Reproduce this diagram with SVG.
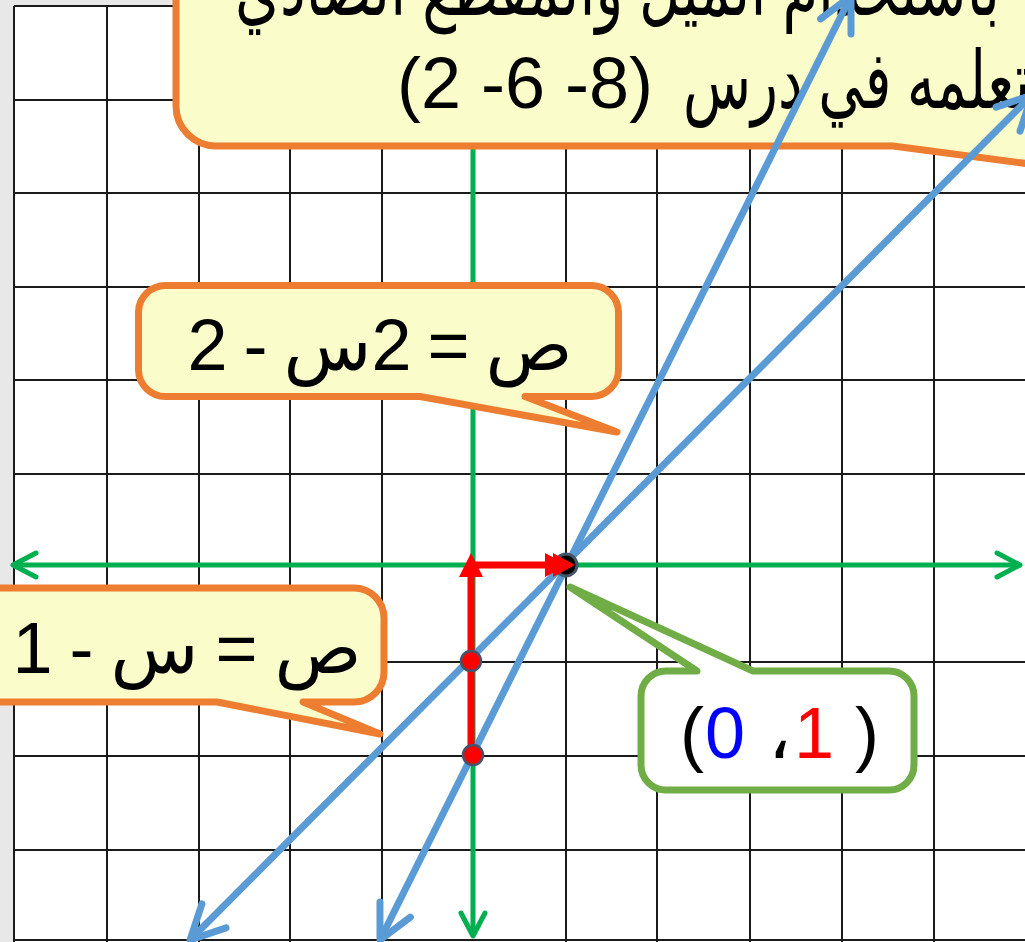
<svg xmlns="http://www.w3.org/2000/svg" width="1025" height="942" viewBox="0 0 1025 942">
<defs>
<style>
.grid line{stroke:#1b1b1b;stroke-width:2}
.axis{stroke:#00B050;stroke-width:5;fill:none}
.blue{stroke:#5B9BD5;stroke-width:7;fill:none}
.red{stroke:#FF0000;stroke-width:7;fill:none}
.callout-o{fill:#FAFDC9;stroke:#ED7D31;stroke-width:7;stroke-linejoin:round}
.callout-g{fill:#FFFFFF;stroke:#70AD47;stroke-width:7;stroke-linejoin:round}
.t{font-family:'Liberation Sans','DejaVu Sans',sans-serif;font-size:72px;fill:#000}
.ar{font-size:80px}
.rdot{fill:#FF0000;stroke:#44546A;stroke-width:2.5}
</style>
<marker id="ga" markerUnits="userSpaceOnUse" markerWidth="60" markerHeight="60" viewBox="-30 -30 60 60" refX="0" refY="0" orient="auto-start-reverse" overflow="visible">
<path d="M-23,-12 L0,0 L-23,12" fill="none" stroke="#00B050" stroke-width="5" stroke-linecap="round" stroke-linejoin="round"/>
</marker>
<marker id="ba" markerUnits="userSpaceOnUse" markerWidth="80" markerHeight="80" viewBox="-40 -40 80 80" refX="0" refY="0" orient="auto-start-reverse" overflow="visible">
<path d="M-34,-17 L0,0 L-34,17" fill="none" stroke="#5B9BD5" stroke-width="7" stroke-linecap="round" stroke-linejoin="round"/>
</marker>
<marker id="ra" markerUnits="userSpaceOnUse" markerWidth="60" markerHeight="60" viewBox="-30 -30 60 60" refX="0" refY="0" orient="auto" overflow="visible">
<path d="M17,0 L-7,-12 L-7,12 Z" fill="#FF0000"/>
</marker>
<marker id="ra2" markerUnits="userSpaceOnUse" markerWidth="60" markerHeight="60" viewBox="-30 -30 60 60" refX="0" refY="0" orient="auto" overflow="visible">
<path d="M23,0 L0,-12 L0,12 Z M30,0 L8,-12 L8,12 Z" fill="#FF0000"/>
</marker>
</defs>
<rect x="0" y="0" width="1025" height="942" fill="#E8E8E8"/>
<rect x="14" y="6" width="1011" height="936" fill="#FFFFFF"/>
<g id="grid" class="grid">
<line x1="14" y1="6" x2="14" y2="942"/>
<line x1="107" y1="6" x2="107" y2="942"/>
<line x1="199" y1="6" x2="199" y2="942"/>
<line x1="290" y1="6" x2="290" y2="942"/>
<line x1="382" y1="6" x2="382" y2="942"/>
<line x1="566" y1="6" x2="566" y2="942"/>
<line x1="657" y1="6" x2="657" y2="942"/>
<line x1="750" y1="6" x2="750" y2="942"/>
<line x1="842" y1="6" x2="842" y2="942"/>
<line x1="934" y1="6" x2="934" y2="942"/>
<line x1="14" y1="6" x2="1025" y2="6"/>
<line x1="14" y1="100" x2="1025" y2="100"/>
<line x1="14" y1="193" x2="1025" y2="193"/>
<line x1="14" y1="287" x2="1025" y2="287"/>
<line x1="14" y1="380" x2="1025" y2="380"/>
<line x1="14" y1="474" x2="1025" y2="474"/>
<line x1="14" y1="662" x2="1025" y2="662"/>
<line x1="14" y1="756" x2="1025" y2="756"/>
<line x1="14" y1="850" x2="1025" y2="850"/>
<line x1="14" y1="940" x2="1025" y2="940"/>
</g>
<g id="axes">
<line class="axis" x1="13" y1="565" x2="1020" y2="565" marker-start="url(#ga)" marker-end="url(#ga)"/>
<line class="axis" x1="473" y1="6" x2="473" y2="936" marker-end="url(#ga)"/>
</g>
<g id="callout-top">
<path class="callout-o" d="M176,-20 V106 A40,40 0 0 0 216,146 H893 L1045,166 V-20 Z"/>
<text class="t ar" x="1000" y="15" text-anchor="end" textLength="765" lengthAdjust="spacingAndGlyphs">باستخدام الميل والمقطع الصادي</text>
<text class="t ar" x="1030" y="108" text-anchor="end" textLength="347" lengthAdjust="spacingAndGlyphs">تعلمه في درس</text>
<text class="t" x="397" y="108" direction="ltr">(2 -6 -8)</text>
</g>
<g id="callout-eq2">
<path class="callout-o" d="M166,285.5 H592 A27,27 0 0 1 618.5,312 V370 A27,27 0 0 1 592,396.5 H525 L617,432 L420,396.5 H166 A27,27 0 0 1 138.5,370 V312 A27,27 0 0 1 166,285.5 Z"/>
<text class="t" x="380" y="370" text-anchor="middle" direction="rtl" style="direction:rtl;unicode-bidi:embed;word-spacing:-4px">ص = 2س - 2</text>
</g>
<g id="callout-eq1">
<path class="callout-o" d="M-10,588 H354 A30,30 0 0 1 384,618 V672 A30,30 0 0 1 354,702 H303 L380,734 L217,702 H-10 Z"/>
<text class="t" x="187" y="673" text-anchor="middle" direction="rtl" style="direction:rtl;unicode-bidi:embed;word-spacing:-3px">ص = س - 1</text>
</g>
<g id="callout-point">
<path class="callout-g" d="M666,671 H697 L570,587 L753,671 H889 A25,25 0 0 1 914,696 V765 A25,25 0 0 1 889,790 H666 A25,25 0 0 1 641,765 V696 A25,25 0 0 1 666,671 Z"/>
<text class="t" y="758" style="direction:ltr;unicode-bidi:bidi-override"><tspan x="680">(</tspan><tspan x="705" fill="#0000FF">0</tspan><tspan x="768">،</tspan><tspan x="794" fill="#FF0000">1</tspan><tspan x="855">)</tspan></text>
</g>
<g id="connectors">
<line id="line-y-x-1" class="blue" x1="190" y1="940" x2="1032" y2="95" marker-start="url(#ba)" marker-end="url(#ba)"/>
<line id="line-y-2x-2" class="blue" x1="380" y1="940" x2="851" y2="-4" marker-start="url(#ba)" marker-end="url(#ba)"/>
<circle id="point-1-0" cx="566" cy="565" r="11" fill="#000" stroke="#44546A" stroke-width="3"/>
<line class="red" x1="471" y1="755" x2="471" y2="570" marker-end="url(#ra)"/>
<line class="red" x1="471" y1="565" x2="545" y2="565" marker-end="url(#ra2)"/>
<circle class="rdot" cx="471" cy="661" r="10"/>
<circle class="rdot" cx="473" cy="755" r="10"/>
</g>
</svg>
